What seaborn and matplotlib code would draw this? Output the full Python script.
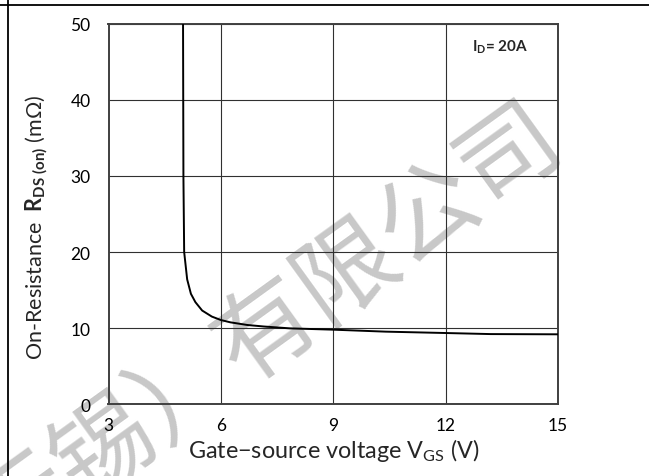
import matplotlib
matplotlib.use("Agg")
import matplotlib.pyplot as plt
import seaborn as sns
import pandas as pd
from matplotlib.lines import Line2D

# ---- data ----
vgs = [4.99, 5.0, 5.02, 5.1, 5.2, 5.32, 5.5, 5.76, 6.0, 6.25, 6.7, 7.14, 7.85,
       9.0, 10.4, 12.0, 13.2, 15.0]
rds = [50.0, 30.0, 20.0, 16.4, 14.5, 13.4, 12.3, 11.5, 11.05, 10.75, 10.4, 10.2,
       9.95, 9.78, 9.52, 9.34, 9.2, 9.17]
x_ticks = [3, 6, 9, 12, 15]
y_ticks = [0, 10, 20, 30, 40, 50]
annotation = r"I$_{\mathbf{D}}$= 20A"
watermark = "无锡）有限公司"

df = pd.DataFrame({"Vgs": vgs, "Rds": rds})

sns.set_theme(style="white")
plt.rcParams["font.family"] = ["Lato", "DejaVu Sans"]
plt.rcParams["mathtext.fontset"] = "custom"
plt.rcParams["mathtext.rm"] = "Lato"
plt.rcParams["mathtext.it"] = "Lato:italic"
plt.rcParams["mathtext.bf"] = "Lato:bold"

fig = plt.figure(figsize=(6.49, 4.77), dpi=100)
fig.patch.set_facecolor("white")
ax = fig.add_axes([108.5 / 649, 1 - 405 / 477, (558 - 108.5) / 649, (405 - 25) / 477])
ax.set_facecolor("none")

sns.lineplot(data=df, x="Vgs", y="Rds", ax=ax, color="black", linewidth=1.4,
             estimator=None, sort=False, zorder=5)

ax.set_xlim(3, 15)
ax.set_ylim(0, 50)
ax.set_xticks(x_ticks)
ax.set_yticks(y_ticks)
ax.set_xticklabels([str(t) for t in x_ticks])
ax.set_yticklabels([str(t) for t in y_ticks])
ax.tick_params(axis="both", length=0, labelsize=12.5, colors="black")
ax.tick_params(axis="x", pad=9.5)
ax.tick_params(axis="y", pad=13)
ax.grid(True, color="#303030", linewidth=0.8)
for s in ax.spines.values():
    s.set_color("#404040")
    s.set_linewidth(1.4)
    s.set_visible(True)

ax.set_xlabel(r"Gate−source voltage V$_{\mathrm{GS}}$ (V)", fontsize=16.8, labelpad=0)
ax.set_ylabel(r"On-Resistance  $\mathbf{R_{DS\ (on)}}$ (mΩ)", fontsize=15.5)
ax.xaxis.set_label_coords((334 - 108.5) / (558 - 108.5), -(451 - 405) / 380)
ax.yaxis.set_label_coords(-(108.5 - 37) / (558 - 108.5), (405 - 227) / 380)
ax.xaxis.label.set_va("center")
ax.yaxis.label.set_va("center")

ax.text(13.45, 47.1, annotation, fontsize=11, fontweight="bold", ha="center", va="center")

# page frame lines
fig.add_artist(Line2D([0, 1], [1 - 6 / 477, 1 - 6 / 477], transform=fig.transFigure,
                      color="black", linewidth=1.3))
fig.add_artist(Line2D([8 / 649, 8 / 649], [0, 1], transform=fig.transFigure,
                      color="black", linewidth=1.3))

# watermark
fig.text(268 / 649, 1 - 332 / 477, watermark, family=["Noto Sans CJK SC", "DejaVu Sans"],
         fontsize=72, color="#c8c8c8", rotation=35.8, rotation_mode="anchor",
         ha="center", va="center", zorder=-1)

fig.savefig("out.png", dpi=100, facecolor="white")
